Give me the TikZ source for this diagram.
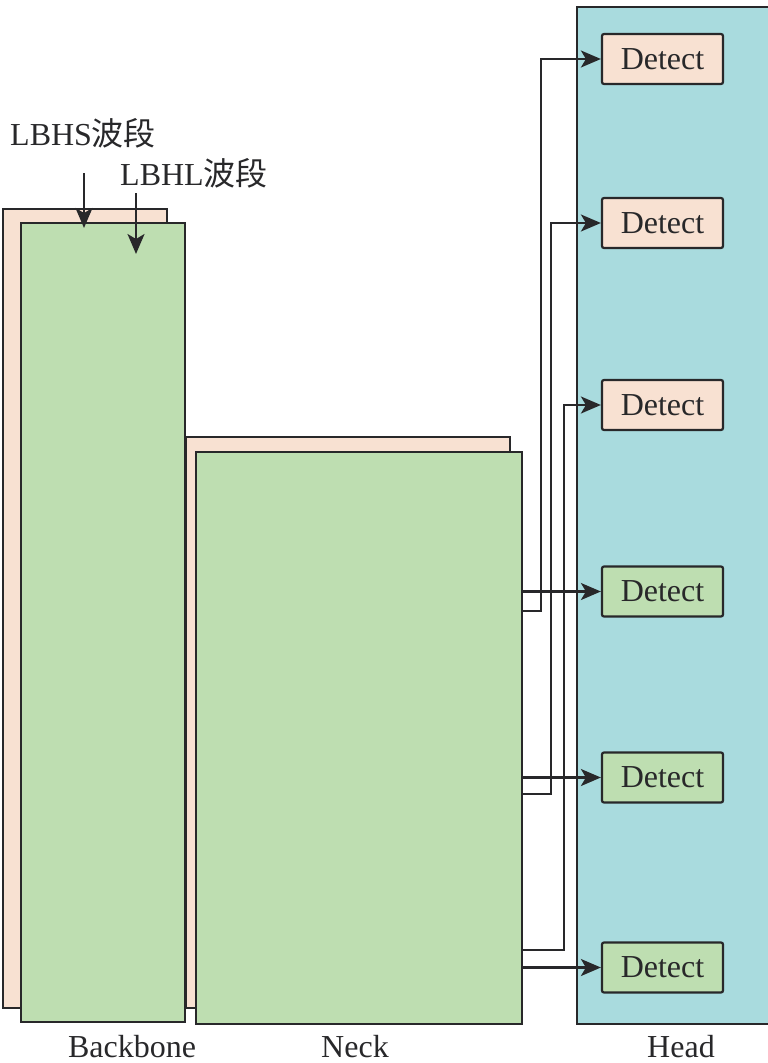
\documentclass[tikz,border=0pt]{standalone}
\usepackage{fontspec}
\setmainfont{Liberation Serif}
\newfontfamily\cjk{Noto Sans CJK SC}
\usetikzlibrary{arrows.meta, positioning, calc}

\definecolor{peach}{RGB}{248,225,210}
\definecolor{leaf}{RGB}{190,222,177}
\definecolor{aqua}{RGB}{169,219,222}
\definecolor{ink}{RGB}{40,40,42}

\begin{document}
\begin{tikzpicture}[
  x=1pt, y=-1pt,
  layer/.style  = {draw=ink, line width=2.2pt, rectangle, inner sep=0pt, anchor=north west},
  detect/.style = {draw=ink, line width=2.2pt, rectangle, rounded corners=2pt,
                   minimum width=121pt, minimum height=50pt, inner sep=0pt,
                   text=ink, font=\fontsize{32}{38}\selectfont},
  lbl/.style    = {text=ink, font=\fontsize{32}{38}\selectfont, inner sep=0pt},
  arrow/.style  = {draw=ink, line width=2.2pt, -{Stealth[length=20pt, width=17pt, inset=5pt]}}
]
  \useasboundingbox (0,0) rectangle (768,1063);

  % Head panel (runs past the right edge)
  \node[layer, fill=aqua, minimum width=210pt, minimum height=1017pt] (head) at (576,6) {};

  % Backbone: LBHS layer behind, LBHL layer in front
  \node[layer, fill=peach, minimum width=164pt, minimum height=799pt] (bbs) at (2,208) {};
  \node[layer, fill=leaf, minimum width=164pt, minimum height=799pt] (bbl) at (20,222) {};

  % Neck
  \node[layer, fill=peach, minimum width=324pt, minimum height=571pt] (nks) at (185,436) {};
  \node[layer, fill=leaf, minimum width=326pt, minimum height=572pt] (nkl) at (195,451) {};

  % Detect heads
  \node[detect, fill=peach] (det1) at (662.5,59) {Detect};
  \node[detect, fill=peach] (det2) at (662.5,223) {Detect};
  \node[detect, fill=peach] (det3) at (662.5,405) {Detect};
  \node[detect, fill=leaf]  (det4) at (662.5,591.5) {Detect};
  \node[detect, fill=leaf]  (det5) at (662.5,777.5) {Detect};
  \node[detect, fill=leaf]  (det6) at (662.5,967.5) {Detect};

  % band labels
  \node[lbl, anchor=west] (lbhs) at (10,133) {LBHS{\cjk 波段}};
  \node[lbl, anchor=west] (lbhl) at (120,173) {LBHL{\cjk 波段}};

  % section labels
  \node[lbl] (bbname) at (132,1047) {Backbone};
  \node[lbl] (nkname) at (355,1047) {Neck};
  \node[lbl] (hdname) at (681,1047) {Head};

  % band arrows
  \coordinate (hsfrom) at (84,173);
  \coordinate (hsto) at (84,228);
  \coordinate (hlfrom) at (136,193);
  \coordinate (hlto) at (136,254);
  \draw[arrow] (hsfrom) -- (hsto);
  \draw[arrow] (hlfrom) -- (hlto);

  % neck outputs with elbows
  \coordinate (out1) at ($(nkl.north east)+(0,160)$);
  \coordinate (out2) at ($(nkl.north east)+(0,343)$);
  \coordinate (out3) at ($(nkl.north east)+(0,499)$);
  \draw[arrow] (out1) -- ++(18,0) |- (det1.west);
  \draw[arrow] (out2) -- ++(28,0) |- (det2.west);
  \draw[arrow] (out3) -- ++(41,0) |- (det3.west);

  % neck outputs straight across
  \draw[arrow] (det4.west -| nkl.east) -- (det4.west);
  \draw[arrow] (det5.west -| nkl.east) -- (det5.west);
  \draw[arrow] (det6.west -| nkl.east) -- (det6.west);

\end{tikzpicture}
\end{document}
